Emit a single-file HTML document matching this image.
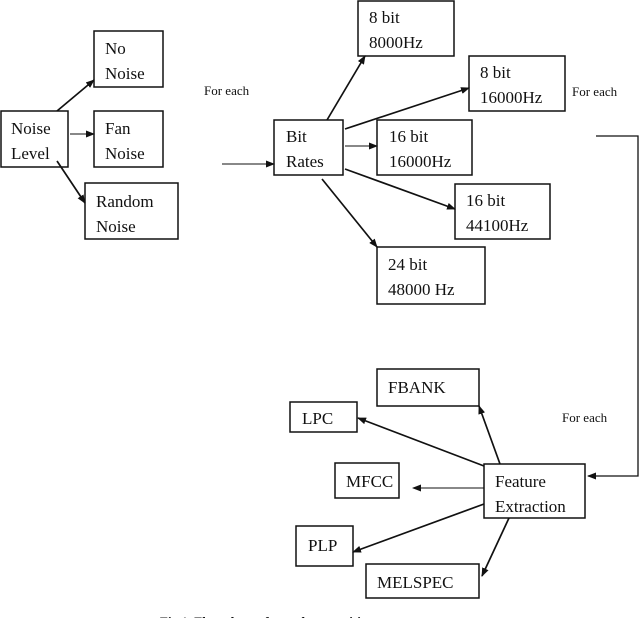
<!DOCTYPE html>
<html><head><style>body{margin:0;background:#fff}svg{display:block}</style></head>
<body>
<svg width="640" height="618" viewBox="0 0 640 618" xmlns="http://www.w3.org/2000/svg" font-family="Liberation Serif, serif" font-size="17" fill="#111">
<defs><marker id="a" markerWidth="9" markerHeight="7" refX="8" refY="3.5" orient="auto" markerUnits="userSpaceOnUse"><path d="M0,0L9,3.5L0,7z" fill="#111"/></marker></defs>
<g fill="none" stroke="#111" stroke-width="1.5">
<rect x="94" y="31" width="69" height="56"/>
<rect x="1" y="111" width="67" height="56"/>
<rect x="94" y="111" width="69" height="56"/>
<rect x="85" y="183" width="93" height="56"/>
<rect x="274" y="120" width="69" height="55"/>
<rect x="358" y="1" width="96" height="55"/>
<rect x="469" y="56" width="96" height="55"/>
<rect x="377" y="120" width="95" height="55"/>
<rect x="455" y="184" width="95" height="55"/>
<rect x="377" y="247" width="108" height="57"/>
<rect x="377" y="369" width="102" height="37"/>
<rect x="290" y="402" width="67" height="30"/>
<rect x="335" y="463" width="64" height="35"/>
<rect x="484" y="464" width="101" height="54"/>
<rect x="296" y="526" width="57" height="40"/>
<rect x="366" y="564" width="113" height="34"/>
</g>
<g stroke="#111" stroke-width="1.7" fill="none" marker-end="url(#a)">
<line x1="57" y1="111" x2="94" y2="80"/>
<line x1="70" y1="134" x2="94" y2="134" stroke-width="1.1"/>
<line x1="57" y1="161" x2="85" y2="203"/>
<line x1="222" y1="164" x2="274" y2="164" stroke-width="1.1"/>
<line x1="327" y1="120" x2="365" y2="56"/>
<line x1="345" y1="129" x2="469" y2="88"/>
<line x1="345" y1="146" x2="377" y2="146" stroke-width="1.1"/>
<line x1="345" y1="169" x2="455" y2="209"/>
<line x1="322" y1="179" x2="377" y2="247"/>
<line x1="500" y1="464" x2="479" y2="406"/>
<line x1="484" y1="466" x2="358" y2="418"/>
<line x1="484" y1="488" x2="413" y2="488" stroke-width="1.1"/>
<line x1="484" y1="504" x2="353" y2="552"/>
<line x1="509" y1="518" x2="482" y2="576"/>
</g>
<polyline points="596,136 638,136 638,476 588,476" fill="none" stroke="#111" stroke-width="1.3" marker-end="url(#a)"/>
<text x="105" y="54">No</text><text x="105" y="79">Noise</text>
<text x="11" y="134">Noise</text><text x="11" y="159">Level</text>
<text x="105" y="134">Fan</text><text x="105" y="159">Noise</text>
<text x="96" y="207">Random</text><text x="96" y="232">Noise</text>
<text x="286" y="142">Bit</text><text x="286" y="167">Rates</text>
<text x="369" y="23">8 bit</text><text x="369" y="48">8000Hz</text>
<text x="480" y="78">8 bit</text><text x="480" y="103">16000Hz</text>
<text x="389" y="142">16 bit</text><text x="389" y="167">16000Hz</text>
<text x="466" y="206">16 bit</text><text x="466" y="231">44100Hz</text>
<text x="388" y="270">24 bit</text><text x="388" y="295">48000 Hz</text>
<text x="388" y="393">FBANK</text>
<text x="302" y="424">LPC</text>
<text x="346" y="487">MFCC</text>
<text x="495" y="487">Feature</text><text x="495" y="512">Extraction</text>
<text x="308" y="551">PLP</text>
<text x="377" y="588">MELSPEC</text>
<g font-size="13"><text x="204" y="95">For each</text><text x="572" y="96">For each</text><text x="562" y="422">For each</text></g>
<text x="160" y="626" font-size="13" font-weight="bold">Fig 1. Flow chart of speech recognition tests</text>
</svg>
</body></html>
